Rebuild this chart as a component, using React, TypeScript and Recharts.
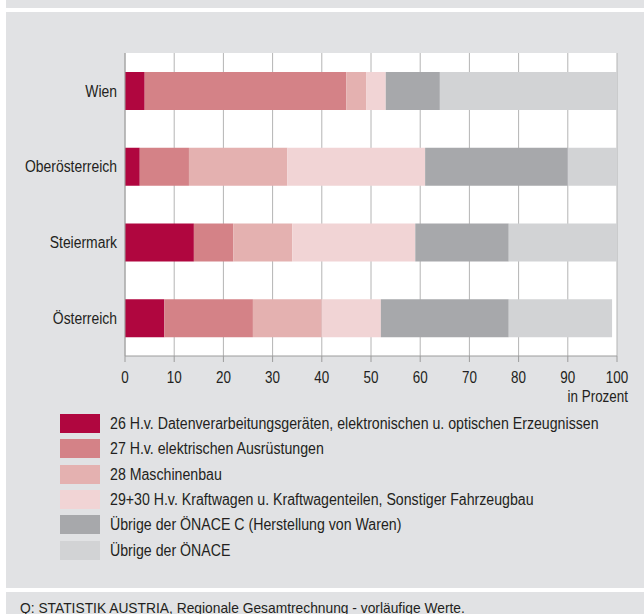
import React from "react";
import { BarChart, Bar, XAxis, YAxis, CartesianGrid, Label } from "recharts";

const categories = ["Wien", "Oberösterreich", "Steiermark", "Österreich"];
const s26 = [4, 3, 14, 8];
const s27 = [41, 10, 8, 18];
const s28 = [4, 20, 12, 14];
const s2930 = [4, 28, 25, 12];
const sUebrigC = [11, 29, 19, 26];
const sUebrig = [36, 10, 22, 21];
const xTicks = [0, 10, 20, 30, 40, 50, 60, 70, 80, 90, 100];

const seriesNames = [
  "26 H.v. Datenverarbeitungsgeräten, elektronischen u. optischen Erzeugnissen",
  "27 H.v. elektrischen Ausrüstungen",
  "28 Maschinenbau",
  "29+30 H.v. Kraftwagen u. Kraftwagenteilen, Sonstiger Fahrzeugbau",
  "Übrige der ÖNACE C (Herstellung von Waren)",
  "Übrige der ÖNACE",
];
const seriesColors = ["#b0063f", "#d48287", "#e4b1b0", "#f1d4d5", "#a7a8ab", "#d2d3d5"];
const seriesKeys = ["s26", "s27", "s28", "s2930", "sUebrigC", "sUebrig"];
const seriesValues = [s26, s27, s28, s2930, sUebrigC, sUebrig];

const data = categories.map((name, i) => {
  const row: Record<string, any> = { name };
  seriesKeys.forEach((k, j) => (row[k] = seriesValues[j][i]));
  return row;
});

const FONT = '"Liberation Sans", Arial, sans-serif';
const TEXT = "#231f20";
const PANEL = "#e1e2e4";

// no narrow font installed -> squeeze text horizontally
function XTick({ x, y, payload }: any) {
  return (
    <g transform={`translate(${x},${y})`}>
      <text transform="scale(0.84,1)" textAnchor="middle" dy="0.71em" fill={TEXT} fontSize={16} fontFamily={FONT}>
        {payload.value}
      </text>
    </g>
  );
}

function YTick({ x, y, payload }: any) {
  return (
    <g transform={`translate(${x},${y})`}>
      <text transform="scale(0.87,1)" textAnchor="end" dy="0.355em" fill={TEXT} fontSize={16} fontFamily={FONT}>
        {payload.value}
      </text>
    </g>
  );
}

function UnitLabel({ viewBox }: any) {
  const x = viewBox.x + viewBox.width + 11;
  const y = viewBox.y + 46;
  return (
    <g transform={`translate(${x},${y})`}>
      <text transform="scale(0.84,1)" textAnchor="end" fill={TEXT} fontSize={16} fontFamily={FONT}>
        in Prozent
      </text>
    </g>
  );
}

export default function App() {
  return (
    <div style={{ position: "absolute", left: 0, top: 0, width: 644, height: 614, background: "#fff", fontFamily: FONT, color: TEXT, overflow: "hidden" }}>
      <div style={{ position: "absolute", left: 6, top: 0, width: 638, height: 8, background: PANEL }} />
      <div style={{ position: "absolute", left: 6, top: 12, width: 638, height: 576, background: PANEL }} />
      <div style={{ position: "absolute", left: 6, top: 592, width: 638, height: 22, background: PANEL }} />

      <div style={{ position: "absolute", left: 0, top: 0 }}>
        <BarChart
          width={644}
          height={410}
          data={data}
          layout="vertical"
          margin={{ top: 53, right: 27, left: 0, bottom: 0 }}
        >
          <CartesianGrid horizontal={false} stroke="#b4b4b4" fill="#ffffff" fillOpacity={1} />
          <XAxis
            type="number"
            domain={[0, 100]}
            ticks={xTicks}
            interval={0}
            height={54}
            tickSize={6}
            tickMargin={10}
            axisLine={{ stroke: "#9c9c9c" }}
            tickLine={{ stroke: "#9c9c9c" }}
            tick={<XTick />}
          >
            <Label content={<UnitLabel />} />
          </XAxis>
          <YAxis
            type="category"
            dataKey="name"
            width={125}
            tickSize={0}
            tickMargin={8}
            axisLine={{ stroke: "#a0a0a0" }}
            tickLine={false}
            tick={<YTick />}
          />
          {seriesKeys.map((k, j) => (
            <Bar
              key={k}
              dataKey={k}
              name={seriesNames[j]}
              stackId="a"
              fill={seriesColors[j]}
              barSize={38}
              isAnimationActive={false}
            />
          ))}
        </BarChart>
      </div>

      {seriesNames.map((n, j) => (
        <div
          key={n}
          style={{ position: "absolute", left: 60, top: 414 + j * 25.3, height: 19, display: "flex", alignItems: "center", whiteSpace: "nowrap" }}
        >
          <div style={{ width: 40, height: 19, background: seriesColors[j], marginRight: 10, flexShrink: 0 }} />
          <span style={{ display: "inline-block", fontSize: 16, lineHeight: "19px", transform: "scaleX(0.885)", transformOrigin: "left center" }}>{n}</span>
        </div>
      ))}

      <div style={{ position: "absolute", left: 20, top: 598.5, fontSize: 15, lineHeight: "18px", whiteSpace: "nowrap", transform: "scaleX(0.92)", transformOrigin: "left center" }}>
        Q: STATISTIK AUSTRIA, Regionale Gesamtrechnung - vorläufige Werte.
      </div>
    </div>
  );
}
